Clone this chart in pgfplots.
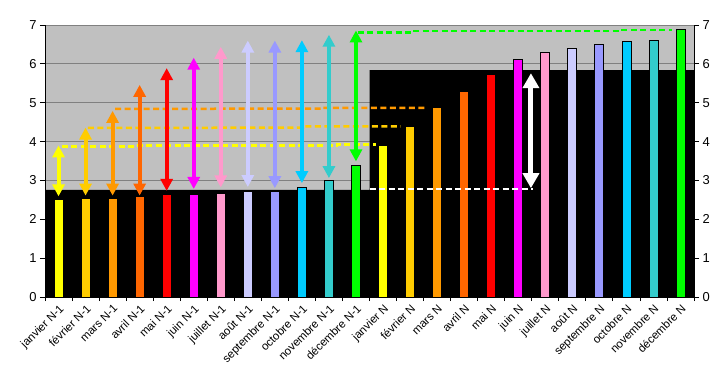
\documentclass[border=0pt]{standalone}
\usepackage{fontspec}
\setmainfont{Liberation Sans}
\usepackage{pgfplots}
\pgfplotsset{compat=1.18}
\usetikzlibrary{arrows.meta}
\definecolor{bggray}{HTML}{C0C0C0}
\definecolor{gridgray}{HTML}{808080}
\definecolor{cA}{HTML}{FFFF00}
\definecolor{cB}{HTML}{FFCC00}
\definecolor{cC}{HTML}{FF9900}
\definecolor{cD}{HTML}{FF6600}
\definecolor{cE}{HTML}{FF0000}
\definecolor{cF}{HTML}{FF00FF}
\definecolor{cG}{HTML}{FF99CC}
\definecolor{cH}{HTML}{CCCCFF}
\definecolor{cI}{HTML}{9999FF}
\definecolor{cJ}{HTML}{00CCFF}
\definecolor{cK}{HTML}{33CCCC}
\definecolor{cL}{HTML}{00FF00}
\pgfplotsset{
  barsty/.style={ybar, bar shift=0pt, bar width=9bp, draw=black, line width=0.8bp, fill=#1},
  arrsty/.style={draw=#1, line width=4bp, {Triangle[width=12bp,length=12bp]}-{Triangle[width=12bp,length=12bp]}, mark=none},
  dashsty/.style={draw=#1, line width=2.5bp, dash pattern=on 6bp off 3.5bp, mark=none},
}
\begin{document}
\begin{tikzpicture}
\path[use as bounding box] (-45bp,-95bp) rectangle (674bp,297bp);
\begin{axis}[
  at={(0,0)}, anchor=south west,
  scale only axis, width=649bp, height=272bp,
  xmin=-0.5, xmax=23.5, ymin=0, ymax=7,
  axis background/.style={fill=bggray},
  axis x line*=bottom, axis y line*=left,
  axis line style={-, black, line width=0.8bp},
  ytick={0,1,...,7},
  ymajorgrids, grid style={gridgray, line width=0.8bp},
  tick style={black, line width=0.8bp},
  major tick length=5bp,
  tick align=outside,
  xtick={0,...,23},
  major x tick style={draw=none},
  minor xtick={-0.5,0.5,...,23.5},
  minor tick length=4bp,
  xticklabels={janvier N-1,février N-1,mars N-1,avril N-1,mai N-1,juin N-1,juillet N-1,août N-1,septembre N-1,octobre N-1,novembre N-1,décembre N-1,janvier N,février N,mars N,avril N,mai N,juin N,juillet N,août N,septembre N,octobre N,novembre N,décembre N},
  x tick label style={rotate=45, anchor=north east, font=\fontsize{11.5}{13}\selectfont, inner sep=1bp},
  y tick label style={font=\fontsize{13}{15}\selectfont},
  /pgf/number format/assume math mode=true,
  clip=false,
]
% black stepped area
\addplot[fill=black, draw=none] coordinates {(-0.5,0) (-0.5,2.76) (11.5,2.76) (11.5,5.84) (23.5,5.84) (23.5,0)} -- cycle;
% bars
\addplot[barsty=cA] coordinates {(0,2.50)};
\addplot[barsty=cB] coordinates {(1,2.54)};
\addplot[barsty=cC] coordinates {(2,2.54)};
\addplot[barsty=cD] coordinates {(3,2.60)};
\addplot[barsty=cE] coordinates {(4,2.63)};
\addplot[barsty=cF] coordinates {(5,2.63)};
\addplot[barsty=cG] coordinates {(6,2.67)};
\addplot[barsty=cH] coordinates {(7,2.71)};
\addplot[barsty=cI] coordinates {(8,2.73)};
\addplot[barsty=cJ] coordinates {(9,2.83)};
\addplot[barsty=cK] coordinates {(10,3.01)};
\addplot[barsty=cL] coordinates {(11,3.39)};
\addplot[barsty=cA] coordinates {(12,3.89)};
\addplot[barsty=cB] coordinates {(13,4.38)};
\addplot[barsty=cC] coordinates {(14,4.89)};
\addplot[barsty=cD] coordinates {(15,5.30)};
\addplot[barsty=cE] coordinates {(16,5.74)};
\addplot[barsty=cF] coordinates {(17,6.11)};
\addplot[barsty=cG] coordinates {(18,6.30)};
\addplot[barsty=cH] coordinates {(19,6.39)};
\addplot[barsty=cI] coordinates {(20,6.50)};
\addplot[barsty=cJ] coordinates {(21,6.57)};
\addplot[barsty=cK] coordinates {(22,6.60)};
\addplot[barsty=cL] coordinates {(23,6.89)};
% dashed guide lines
\addplot[dashsty=cA] coordinates {(0.12,3.87) (2.83,3.87) (2.83,3.90) (10.29,3.90) (10.29,3.93) (11.73,3.93)};
\addplot[dashsty=cB] coordinates {(1.09,4.35) (9.04,4.36) (9.04,4.39) (12.65,4.39)};
\addplot[dashsty=cC] coordinates {(2.09,4.84) (9.73,4.85) (9.73,4.87) (13.59,4.87)};
\addplot[dashsty=cL] coordinates {(11.06,6.81) (13.11,6.81) (13.11,6.85) (20.69,6.85) (20.69,6.87) (22.68,6.87)};
\addplot[dashsty=white] coordinates {(11.5,2.78) (17.55,2.78)};
% double arrows
\addplot[arrsty=cA] coordinates {(0,2.59) (0,3.90)};
\addplot[arrsty=cB] coordinates {(1,2.61) (1,4.36)};
\addplot[arrsty=cC] coordinates {(2,2.61) (2,4.79)};
\addplot[arrsty=cD] coordinates {(3,2.61) (3,5.46)};
\addplot[arrsty=cE] coordinates {(4,2.73) (4,5.89)};
\addplot[arrsty=cF] coordinates {(5,2.78) (5,6.16)};
\addplot[arrsty=cG] coordinates {(6,2.82) (6,6.44)};
\addplot[arrsty=cH] coordinates {(7,2.83) (7,6.60)};
\addplot[arrsty=cI] coordinates {(8,2.80) (8,6.60)};
\addplot[arrsty=cJ] coordinates {(9,2.93) (9,6.61)};
\addplot[arrsty=cK] coordinates {(10,3.06) (10,6.75)};
\addplot[arrsty=cL] coordinates {(11,3.49) (11,6.86)};
\addplot[draw=white, line width=5bp, {Triangle[width=16bp,length=15bp]}-{Triangle[width=16bp,length=15bp]}, mark=none] coordinates {(17.47,2.80) (17.47,5.76)};
\end{axis}
\begin{axis}[
  at={(0,0)}, anchor=south west,
  scale only axis, width=649bp, height=272bp,
  xmin=-0.5, xmax=23.5, ymin=0, ymax=7,
  axis x line=none, axis y line*=right,
  axis line style={-, black, line width=0.8bp},
  ytick={0,1,...,7},
  tick style={black, line width=0.8bp},
  major tick length=5bp, tick align=outside,
  y tick label style={font=\fontsize{13}{15}\selectfont},
  /pgf/number format/assume math mode=true,
]
\addplot[draw=none] coordinates {(0,0)};
\end{axis}
\end{tikzpicture}
\end{document}
